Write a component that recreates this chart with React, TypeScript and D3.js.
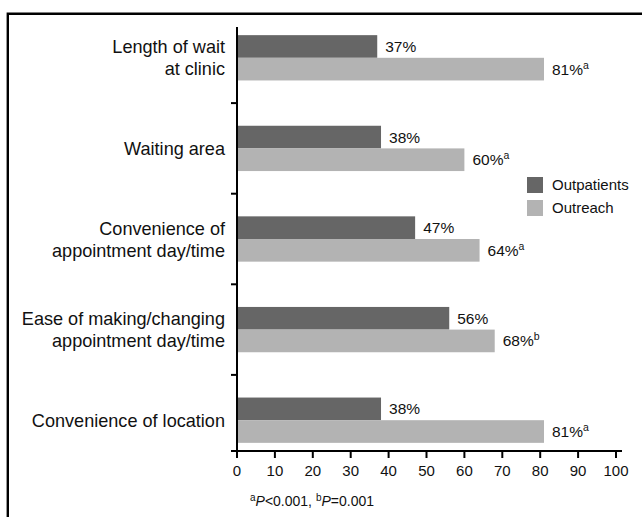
import React from "react";
import * as d3 from "d3";

const categories: string[][] = [
  ["Length of wait", "at clinic"],
  ["Waiting area"],
  ["Convenience of", "appointment day/time"],
  ["Ease of making/changing", "appointment day/time"],
  ["Convenience of location"],
];
const outpatients: number[] = [37, 38, 47, 56, 38];
const outreach: number[] = [81, 60, 64, 68, 81];
const outreachSup: string[] = ["a", "a", "a", "b", "a"];
const xTicks: number[] = [0, 10, 20, 30, 40, 50, 60, 70, 80, 90, 100];
const seriesNames: string[] = ["Outpatients", "Outreach"];
const seriesColors: string[] = ["#666666", "#b3b3b3"];

const FONT = "'Liberation Sans', Arial, Helvetica, sans-serif";

export default function App() {
  const W = 642;
  const H = 517;
  const x = d3.scaleLinear().domain([0, 100]).range([237, 616]);
  const y = d3
    .scaleBand<number>()
    .domain(categories.map((_, i) => i))
    .range([27, 451])
    .paddingInner(0.5)
    .paddingOuter(0.09);
  const bw = y.bandwidth();
  const half = bw / 2;
  const step = y.step();

  return (
    <svg
      width={W}
      height={H}
      style={{ position: "fixed", top: 0, left: 0, background: "#fff" }}
      fontFamily={FONT}
    >
      <rect x={0} y={0} width={W} height={H} fill="#fff" />
      {/* frame */}
      <path d={`M7.8 ${H} V13.8 H${W}`} fill="none" stroke="#000" strokeWidth={2.4} />

      {/* bars */}
      {categories.map((_, i) => {
        const y0 = y(i)!;
        return (
          <g key={i}>
            <rect
              x={x(0)}
              y={y0}
              width={x(outpatients[i]) - x(0)}
              height={half}
              fill={seriesColors[0]}
            />
            <rect
              x={x(0)}
              y={y0 + half}
              width={x(outreach[i]) - x(0)}
              height={half}
              fill={seriesColors[1]}
            />
            <text
              x={x(outpatients[i]) + 8}
              y={y0 + half / 2 + 5.5}
              fontSize={15.5}
              fill="#111"
            >
              {outpatients[i]}%
            </text>
            <text
              x={x(outreach[i]) + 8}
              y={y0 + half * 1.5 + 5.5}
              fontSize={15.5}
              fill="#111"
            >
              {outreach[i]}%
              <tspan fontSize={10.5} dy={-6}>
                {outreachSup[i]}
              </tspan>
            </text>
          </g>
        );
      })}

      {/* category labels */}
      {categories.map((lines, i) => {
        const cy = y(i)! + half;
        const lh = 22;
        const start = cy - ((lines.length - 1) * lh) / 2;
        return (
          <text key={i} textAnchor="end" fontSize={18.1} fill="#111">
            {lines.map((l, j) => (
              <tspan key={j} x={225} y={start + j * lh + 6.5}>
                {l}
              </tspan>
            ))}
          </text>
        );
      })}

      {/* y axis */}
      <line x1={x(0)} x2={x(0)} y1={27} y2={451} stroke="#000" strokeWidth={2} />
      {categories.slice(0, -1).map((_, i) => {
        const ty = y(i)! + bw + (step - bw) / 2;
        return (
          <line key={i} x1={x(0) - 6} x2={x(0)} y1={ty} y2={ty} stroke="#000" strokeWidth={2} />
        );
      })}

      {/* x axis */}
      <line x1={x(0) - 6} x2={x(100) + 6} y1={451} y2={451} stroke="#000" strokeWidth={2} />
      {xTicks.map((t) => (
        <g key={t}>
          <line x1={x(t)} x2={x(t)} y1={451} y2={458} stroke="#000" strokeWidth={2} />
          <text x={x(t)} y={476} textAnchor="middle" fontSize={15} fill="#111">
            {t}
          </text>
        </g>
      ))}

      {/* legend */}
      {seriesNames.map((s, i) => (
        <g key={s}>
          <rect x={527} y={177 + i * 23} width={16} height={16} fill={seriesColors[i]} />
          <text x={552} y={190 + i * 23} fontSize={15} fill="#111">
            {s}
          </text>
        </g>
      ))}

      {/* footnote */}
      <text x={250} y={506} fontSize={14} fill="#111">
        <tspan fontSize={10} dy={-5}>a</tspan>
        <tspan dy={5} fontStyle="italic">P</tspan>
        <tspan>{"<0.001, "}</tspan>
        <tspan fontSize={10} dy={-5}>b</tspan>
        <tspan dy={5} fontStyle="italic">P</tspan>
        <tspan>{"=0.001"}</tspan>
      </text>
    </svg>
  );
}
